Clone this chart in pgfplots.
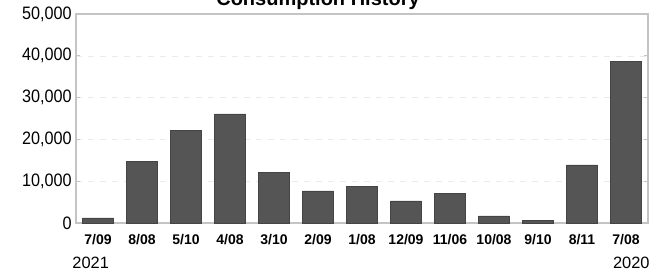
\documentclass[border=0pt]{standalone}
\usepackage{pgfplots}
\pgfplotsset{compat=1.18}
\usepackage{fontspec}
\setmainfont{Liberation Sans}
\definecolor{bar}{HTML}{555555}
\definecolor{frame}{HTML}{C4C4C4}
\begin{document}
\begin{tikzpicture}[x=1pt,y=1pt]
\begin{axis}[
  at={(38pt,26pt)}, anchor=south west,
  scale only axis, width=286pt, height=104.5pt,
  xmin=-0.5, xmax=12.5, ymin=0, ymax=50000,
  xtick=data,
  xticklabels={7/09,8/08,5/10,4/08,3/10,2/09,1/08,12/09,11/06,10/08,9/10,8/11,7/08},
  ytick={0,10000,20000,30000,40000,50000},
  yticklabels={0,{10,000},{20,000},{30,000},{40,000},{50,000}},
  scaled y ticks=false,
  yticklabel style={font=\fontsize{9}{10}\selectfont, xshift=1pt, xscale=0.9},
  xticklabel style={font=\fontsize{7}{8}\bfseries\selectfont, yshift=0pt},
  axis line style={frame, line width=0.6pt},
  tick style={frame, line width=0.5pt},
  major tick length=2pt,
  xtick style={draw=none},
  ymajorgrids, grid style={frame!35, dashed, line width=0.3pt},
  ybar, bar width=0.7,
]
\addplot[fill=bar, draw=bar!80!black, line width=0.3pt] coordinates {
(0,1200) (1,14700) (2,22200) (3,26100) (4,12100) (5,7700) (6,8700)
(7,5300) (8,7100) (9,1700) (10,700) (11,13900) (12,38600)};
\end{axis}
\node[anchor=base, font=\fontsize{10}{12}\bfseries\selectfont, inner sep=0pt] at (159pt,135pt) {Consumption History};
\node[anchor=base west, font=\fontsize{8.2}{9}\selectfont, inner sep=0pt] at (36pt,3.5pt) {2021};
\node[anchor=base east, font=\fontsize{8.2}{9}\selectfont, inner sep=0pt] at (325pt,3.5pt) {2020};
\pgfresetboundingbox
\useasboundingbox (0,0) rectangle (332.5pt,137.5pt);
\end{tikzpicture}
\end{document}
